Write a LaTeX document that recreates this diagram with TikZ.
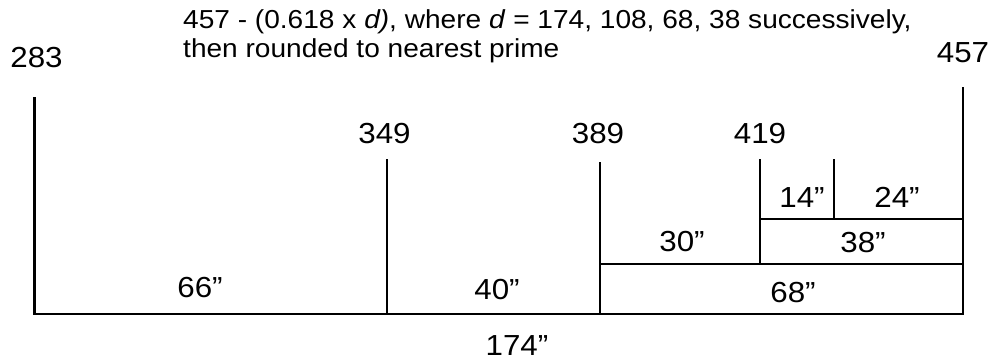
\documentclass[tikz,border=0pt]{standalone}
\usepackage{fontspec}
\setmainfont{Liberation Sans}[FakeStretch=1.08]
\usetikzlibrary{positioning}

\begin{document}
\begin{tikzpicture}[
    x=1pt, y=-1pt,
    seg/.style={line width=2.2pt},
    num/.style={font=\fontsize{29}{32}\selectfont, inner sep=0pt, anchor=base},
    len/.style={font=\fontsize{29}{32}\selectfont, inner sep=0pt, anchor=base},
    note/.style={font=\fontsize{26}{29}\selectfont, inner sep=0pt, anchor=base west}
]
\useasboundingbox (0,0) rectangle (990,360);

% end points of the frame
\coordinate (lt) at (34.5,97);
\coordinate (lb) at (34.5,314);
\coordinate (rt) at (963,87);
\coordinate (rb) at (963,314);

% division marks
\coordinate (a) at (386.7,159);  \coordinate (ab) at (386.7,314);
\coordinate (b) at (600,162);    \coordinate (bb) at (600,314);
\coordinate (bm) at (600,264);   \coordinate (rm) at (963,264);
\coordinate (c) at (760,159);    \coordinate (cb) at (760,264);
\coordinate (cm) at (760,219);   \coordinate (rn) at (963,219);
\coordinate (e) at (834,159);    \coordinate (eb) at (834,219);

% lines
\draw[seg] (lt) -- (lb) -- (rb) -- (rt);
\draw[seg] (a) -- (ab);
\draw[seg] (b) -- (bb);
\draw[seg] (bm) -- (rm);
\draw[seg] (c) -- (cb);
\draw[seg] (cm) -- (rn);
\draw[seg] (e) -- (eb);

% prime labels
\node[num] (p283) at (36.5,67) {283};
\node[num] (p457) at (963,62) {457};
\node[num] (p349) at (384.5,143) {349};
\node[num] (p389) at (598,143) {389};
\node[num] (p419) at (760,143) {419};

% lengths
\node[len] (l66) at (200,297) {66”};
\node[len] (l40) at (497,299) {40”};
\node[len] (l68) at (793,302) {68”};
\node[len] (l30) at (682,251) {30”};
\node[len] (l38) at (863,252) {38”};
\node[len] (l14) at (802,207) {14”};
\node[len] (l24) at (897,207) {24”};
\node[len] (l174) at (517,355) {174”};

% formula
\node[note] (f1) at (183,28) {457 - (0.618 x \textit{d)}, where \textit{d} = 174, 108, 68, 38 successively,};
\node[note] (f2) at (183,57) {then rounded to nearest prime};

\end{tikzpicture}
\end{document}
